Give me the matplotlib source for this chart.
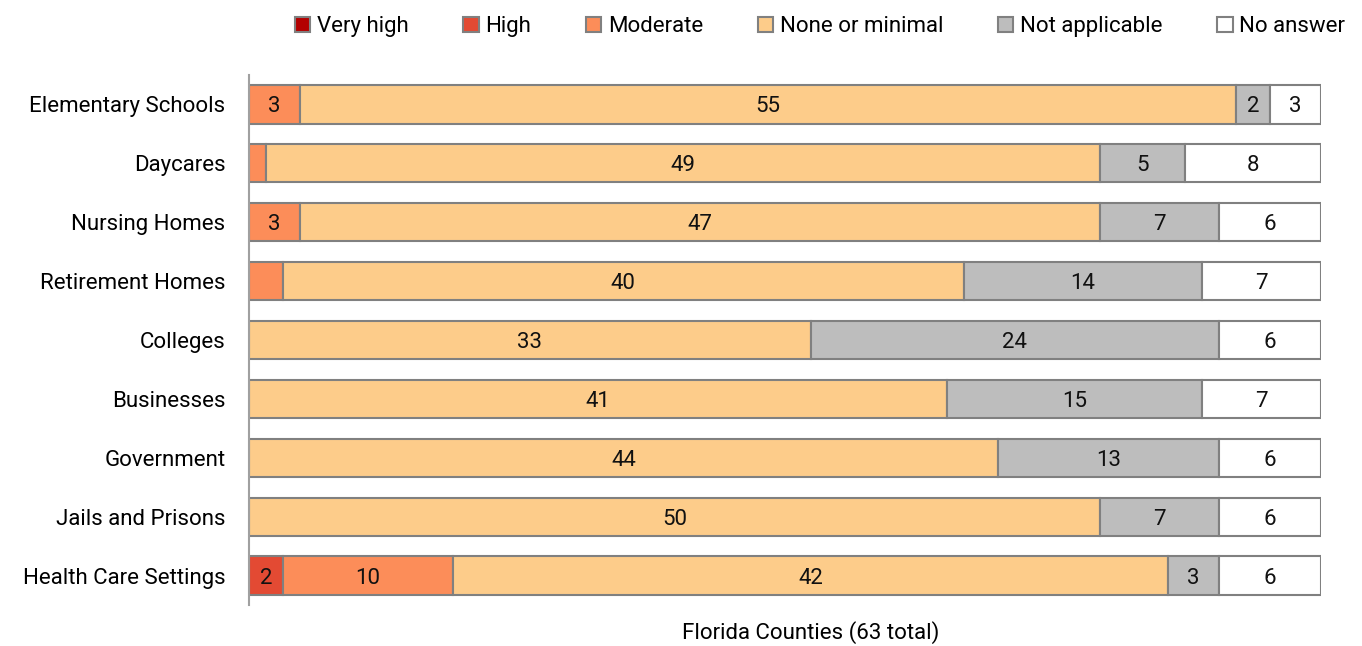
import matplotlib
matplotlib.use("Agg")
import matplotlib.pyplot as plt
import numpy as np

plt.rcParams['font.family'] = ['Roboto', 'DejaVu Sans']

settings = ["Elementary Schools", "Daycares", "Nursing Homes", "Retirement Homes",
            "Colleges", "Businesses", "Government", "Jails and Prisons",
            "Health Care Settings"]
series_names = ["Very high", "High", "Moderate", "None or minimal",
                "Not applicable", "No answer"]
very_high = [0, 0, 0, 0, 0, 0, 0, 0, 0]
high = [0, 0, 0, 0, 0, 0, 0, 0, 2]
moderate = [3, 1, 3, 2, 0, 0, 0, 0, 10]
none_minimal = [55, 49, 47, 40, 33, 41, 44, 50, 42]
not_applicable = [2, 5, 7, 14, 24, 15, 13, 7, 3]
no_answer = [3, 8, 6, 7, 6, 7, 6, 6, 6]
# segments whose value label is not printed in the original (row, series index)
unlabeled = [(1, 2), (3, 2)]
total = 63
xlabel = "Florida Counties (63 total)"

colors = ["#b30000", "#e34a33", "#fc8d59", "#fdcc8a", "#bdbdbd", "#ffffff"]
series = [very_high, high, moderate, none_minimal, not_applicable, no_answer]

FS = 16

fig = plt.figure(figsize=(13.62, 6.46), dpi=100)
ax = fig.add_axes([249/1362, 1-605/646, (1321-249)/1362, (605-75)/646])

y = np.arange(len(settings))
left = np.zeros(len(settings))
for si, (vals, col, name) in enumerate(zip(series, colors, series_names)):
    vals = np.array(vals, dtype=float)
    bars = ax.barh(y, vals, left=left, height=0.65, color=col, edgecolor="#808080",
                   linewidth=1.5, label=name)
    for ri, (b, v) in enumerate(zip(bars, vals)):
        if v > 0 and (ri, si) not in unlabeled:
            ax.text(left[ri] + v/2, y[ri], f"{int(v)}", ha="center",
                    va="center_baseline", fontsize=FS, color="#111111")
    left += vals

ax.set_xlim(0, total)
ax.set_ylim(len(settings) - 0.5, -0.5)
ax.set_yticks(y)
ax.set_yticklabels(settings, fontsize=FS)
ax.set_xticks([])
ax.tick_params(axis="y", length=0, pad=17)
for s in ["top", "right", "bottom"]:
    ax.spines[s].set_visible(False)
ax.spines["left"].set_color("#a0a0a0")
ax.spines["left"].set_linewidth(1.5)
ax.set_xlabel(xlabel, fontsize=FS)
ax.xaxis.set_label_coords((811 - 249) / 1072, -28 / 530)
ax.xaxis.label.set_va("center")

handles, labels = ax.get_legend_handles_labels()
leg = fig.legend(handles, labels, loc="upper center", ncol=6, frameon=False,
                 bbox_to_anchor=(820/1362, 1.006), fontsize=FS, handlelength=0.7,
                 handleheight=0.7, handletextpad=0.3, columnspacing=2.45)

fig.savefig("out.png", dpi=100)
